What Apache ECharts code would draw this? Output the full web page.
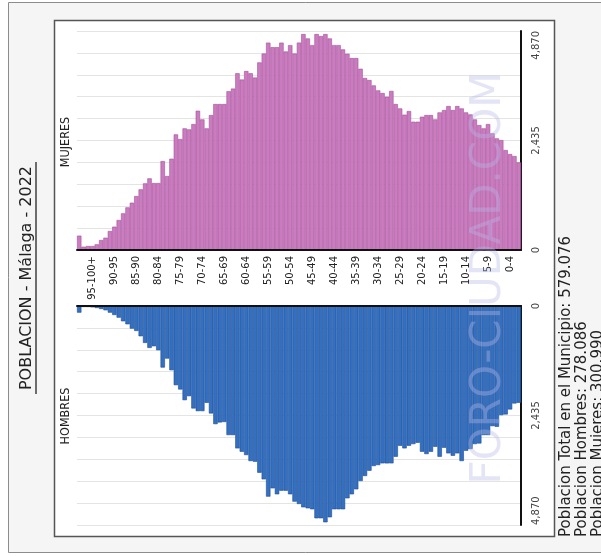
<!DOCTYPE html>
<html>
<head>
<meta charset="utf-8">
<script src="https://cdn.jsdelivr.net/npm/echarts@6/dist/echarts.min.js"></script>
<style>
  html, body { margin: 0; padding: 0; background: #fff; }
  #chart { width: 601px; height: 556px; }
</style>
</head>
<body>
<div id="chart"></div>
<script>
// edades de 100+ (izquierda) a 0 (derecha)
var ages = ['100+', '99', '98', '97', '96', '95', '94', '93', '92', '91',
  '90', '89', '88', '87', '86', '85', '84', '83', '82', '81',
  '80', '79', '78', '77', '76', '75', '74', '73', '72', '71',
  '70', '69', '68', '67', '66', '65', '64', '63', '62', '61',
  '60', '59', '58', '57', '56', '55', '54', '53', '52', '51',
  '50', '49', '48', '47', '46', '45', '44', '43', '42', '41',
  '40', '39', '38', '37', '36', '35', '34', '33', '32', '31',
  '30', '29', '28', '27', '26', '25', '24', '23', '22', '21',
  '20', '19', '18', '17', '16', '15', '14', '13', '12', '11',
  '10', '9', '8', '7', '6', '5', '4', '3', '2', '1', '0']

// etiquetas de grupo (una cada 5 edades)
var groupLabels = ['95-100+', '90-95', '85-90', '80-84', '75-79', '70-74', '65-69',
  '60-64', '55-59', '50-54', '45-49', '40-44', '35-39', '30-34', '25-29',
  '20-24', '15-19', '10-14', '5-9', '0-4']

var mujeres = [319, 74, 89, 89, 126, 222, 274, 422, 519, 667,
  815, 948, 1052, 1200, 1349, 1482, 1593, 1489, 1489, 1978,
  1645, 2030, 2571, 2468, 2705, 2682, 2801, 3097, 2905, 2705,
  3001, 3246, 3246, 3246, 3530, 3590, 3930, 3790, 3979, 3930,
  3835, 4172, 4368, 4612, 4510, 4510, 4612, 4415, 4557, 4368,
  4612, 4802, 4705, 4557, 4802, 4757, 4802, 4705, 4557, 4557,
  4461, 4364, 4268, 4268, 4030, 3825, 3780, 3660, 3550, 3490,
  3409, 3538, 3246, 3149, 3010, 3090, 2853, 2853, 2964, 3001,
  3001, 2905, 3060, 3112, 3201, 3112, 3201, 3149, 3060, 3016,
  2905, 2779, 2705, 2801, 2594, 2482, 2445, 2223, 2134, 2090, 1949]

var hombres = [148, 22, 22, 30, 44, 67, 96, 148, 200, 259,
  340, 407, 503, 555, 673, 821, 932, 895, 984, 1369,
  1169, 1428, 1761, 1857, 2094, 2005, 2279, 2338, 2338, 2153,
  2390, 2627, 2590, 2580, 2871, 2871, 3167, 3241, 3315, 3448,
  3463, 3707, 3855, 4240, 4055, 4188, 4107, 4107, 4188, 4351,
  4403, 4477, 4499, 4521, 4721, 4721, 4810, 4699, 4521, 4521,
  4521, 4277, 4188, 4077, 3892, 3781, 3663, 3559, 3537, 3500,
  3500, 3500, 3352, 3108, 3167, 3108, 3071, 3041, 3241, 3293,
  3241, 3130, 3352, 3152, 3278, 3330, 3278, 3448, 3219, 3182,
  3071, 3056, 2871, 2871, 2671, 2686, 2427, 2412, 2301, 2168, 2153]

var valueTicks = [0, 2435, 4870]
var axisMax = 4870
var tickStep = 487

var statLines = ['Poblacion Total en el Municipio: 579.076',
  'Poblacion Hombres: 278.086',
  'Poblacion Mujeres: 300.990']

var font = 'DejaVu Sans'

function tickLabel (v) {
  return valueTicks.indexOf(v) >= 0 ? v.toLocaleString('en-US') : ''
}

function showAgeLabel (index) {
  return parseInt(ages[index], 10) % 5 === 2
}

function ageGroup (age) {
  return groupLabels[(97 - parseInt(age, 10)) / 5]
}

function valueAxis (grid, inverse) {
  return {
    gridIndex: grid,
    type: 'value',
    position: 'right',
    inverse: inverse,
    min: 0,
    max: axisMax,
    interval: tickStep,
    axisLine: { show: true, lineStyle: { color: '#111', width: 2 } },
    axisTick: { show: false },
    splitLine: { show: true, lineStyle: { color: '#e4e4e4', width: 1 } },
    axisLabel: {
      rotate: 90,
      margin: 10,
      fontSize: 10,
      fontFamily: font,
      color: '#444',
      alignMaxLabel: inverse ? 'left' : 'right',
      formatter: tickLabel
    }
  }
}

var myChart = echarts.init(document.getElementById('chart'), null, { renderer: 'canvas' })

var option = {
  backgroundColor: '#fff',
  animation: false,
  grid: [
    { left: 77, right: 80, top: 31, height: 219, outerBoundsMode: 'none' },
    { left: 77, right: 80, top: 306, height: 219, outerBoundsMode: 'none' }
  ],
  xAxis: [
    {
      gridIndex: 0,
      type: 'category',
      data: ages,
      position: 'bottom',
      z: 5,
      axisLine: { show: true, lineStyle: { color: '#111', width: 2 } },
      axisTick: { show: false },
      splitLine: { show: false },
      axisLabel: {
        rotate: 90,
        margin: 6,
        fontSize: 10,
        fontFamily: font,
        color: '#222',
        interval: showAgeLabel,
        formatter: ageGroup
      }
    },
    {
      gridIndex: 1,
      type: 'category',
      data: ages,
      position: 'top',
      z: 5,
      axisLine: { show: true, lineStyle: { color: '#111', width: 2 } },
      axisTick: { show: false },
      splitLine: { show: false },
      axisLabel: { show: false }
    }
  ],
  yAxis: [valueAxis(0, false), valueAxis(1, true)],
  series: [
    {
      name: 'MUJERES',
      type: 'bar',
      xAxisIndex: 0,
      yAxisIndex: 0,
      data: mujeres,
      barCategoryGap: '0%',
      itemStyle: { color: '#cb7bbf', borderColor: '#a5539b', borderWidth: 0.6 }
    },
    {
      name: 'HOMBRES',
      type: 'bar',
      xAxisIndex: 1,
      yAxisIndex: 1,
      data: hombres,
      barCategoryGap: '0%',
      itemStyle: { color: '#3370c2', borderColor: '#1d4b92', borderWidth: 0.6 }
    }
  ],
  graphic: [
    {
      type: 'rect', z: -10, silent: true,
      shape: { x: 8.5, y: 2.5, width: 620, height: 550 },
      style: { fill: '#f4f5f4', stroke: '#8c8c8c', lineWidth: 1 }
    },
    {
      type: 'rect', z: -9, silent: true,
      shape: { x: 54.5, y: 20.5, width: 500, height: 516 },
      style: { fill: '#fff', stroke: '#555', lineWidth: 1.5 }
    },
    {
      type: 'group', x: 27, y: 278, rotation: Math.PI / 2, z: 50,
      children: [
        {
          type: 'text',
          style: { text: 'POBLACION - Málaga - 2022', font: '16px "DejaVu Sans"', fill: '#222', align: 'center', verticalAlign: 'middle' }
        },
        {
          type: 'line',
          shape: { x1: -116, y1: 9, x2: 116, y2: 9 },
          style: { stroke: '#222', lineWidth: 1.3 }
        }
      ]
    },
    {
      type: 'text', x: 66, y: 142, rotation: Math.PI / 2, z: 50,
      style: { text: 'MUJERES', font: '12.5px "DejaVu Sans Condensed", "DejaVu Sans"', fill: '#222', align: 'center', verticalAlign: 'middle' }
    },
    {
      type: 'text', x: 66, y: 416, rotation: Math.PI / 2, z: 50,
      style: { text: 'HOMBRES', font: '12.5px "DejaVu Sans Condensed", "DejaVu Sans"', fill: '#222', align: 'center', verticalAlign: 'middle' }
    },
    {
      type: 'text', x: 489, y: 278, rotation: Math.PI / 2, z: 60, silent: true,
      style: { text: 'FORO-CIUDAD.COM', font: '42px "DejaVu Sans"', fill: 'rgba(185,185,235,0.38)', align: 'center', verticalAlign: 'middle' }
    },
    {
      type: 'text', x: 566, y: 537, rotation: Math.PI / 2, z: 50,
      style: { text: statLines[0], font: '15px "DejaVu Sans"', fill: '#222', align: 'left', verticalAlign: 'middle' }
    },
    {
      type: 'text', x: 582, y: 537, rotation: Math.PI / 2, z: 50,
      style: { text: statLines[1], font: '15px "DejaVu Sans"', fill: '#222', align: 'left', verticalAlign: 'middle' }
    },
    {
      type: 'text', x: 598, y: 537, rotation: Math.PI / 2, z: 50,
      style: { text: statLines[2], font: '15px "DejaVu Sans"', fill: '#222', align: 'left', verticalAlign: 'middle' }
    }
  ]
}

myChart.setOption(option)
</script>
</body>
</html>
